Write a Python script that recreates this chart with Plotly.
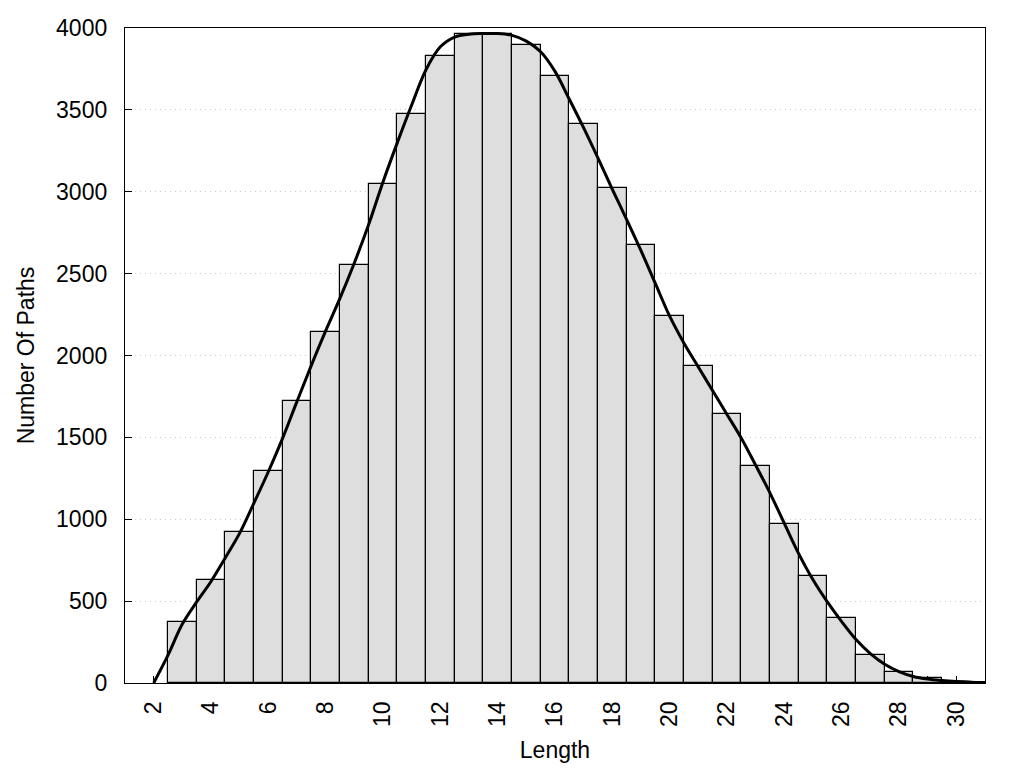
import plotly.graph_objects as go

# Histogram data
lengths = list(range(3, 31))
counts = [370, 627, 925, 1292, 1720, 2146, 2550, 3050, 3472, 3828, 3961, 3961,
          3898, 3708, 3411, 3020, 2672, 2244, 1933, 1645, 1327, 974, 656, 394,
          174, 70, 28, 6]

# Smoothed density curve
curve_x = [2, 2.5, 3, 3.5, 4, 4.5, 5, 5.5, 6, 6.5, 7, 7.5, 8, 8.5, 9, 9.5,
           10, 10.5, 11, 11.5, 12, 12.5, 13, 13.5, 14, 14.5, 15, 15.5, 16,
           16.5, 17, 17.5, 18, 18.5, 19, 19.5, 20, 20.5, 21, 21.5, 22, 22.5,
           23, 23.5, 24, 24.5, 25, 25.5, 26, 26.5, 27, 27.5, 28, 28.5, 29,
           29.5, 30, 30.5, 31]
curve_y = [0, 170, 360, 495, 620, 765, 915, 1100, 1290, 1495, 1720, 1940,
           2150, 2350, 2565, 2800, 3060, 3300, 3530, 3745, 3885, 3945, 3962,
           3966, 3966, 3955, 3920, 3855, 3735, 3565, 3390, 3205, 3015, 2830,
           2640, 2440, 2240, 2075, 1930, 1785, 1640, 1495, 1330, 1160, 975,
           790, 630, 495, 375, 265, 180, 115, 70, 40, 24, 15, 9, 5, 3]

x_tickvals = list(range(1, 32))
x_ticktext = [str(v) if v % 2 == 0 else "" for v in x_tickvals]
y_tickvals = list(range(0, 4001, 500))

fig = go.Figure()
fig.add_trace(go.Bar(
    x=lengths, y=counts, width=1.0,
    marker=dict(color="#dedede", line=dict(color="black", width=1.2)),
    showlegend=False,
))
fig.add_trace(go.Scatter(
    x=curve_x, y=curve_y, mode="lines",
    line=dict(color="black", width=3, shape="spline", smoothing=1.0),
    showlegend=False, cliponaxis=True,
))

font = dict(family="Liberation Sans, Arial, sans-serif", size=23, color="black")
fig.update_layout(
    width=1024, height=768,
    margin=dict(l=117, r=47, t=20, b=93),
    plot_bgcolor="white", paper_bgcolor="white",
    font=font,
    bargap=0,
    xaxis=dict(
        range=[1, 31], tickvals=x_tickvals, ticktext=x_ticktext,
        tickangle=-90, ticks="inside", ticklen=7, tickcolor="black",
        showline=True, mirror=True, linecolor="black", linewidth=1.3,
        showgrid=False, zeroline=False, layer="below traces",
        title=dict(text="Length", font=font, standoff=15),
        ticklabelstandoff=8, automargin=False,
    ),
    yaxis=dict(
        range=[0, 4000], tickvals=y_tickvals,
        ticks="inside", ticklen=7, tickcolor="black",
        showline=True, mirror=True, linecolor="black", linewidth=1.3,
        showgrid=True, gridcolor="#c8c8c8", griddash="1px,4px", gridwidth=1,
        zeroline=False,
        title=dict(text="Number Of Paths", font=font, standoff=15),
        ticklabelstandoff=12, automargin=False,
    ),
)

fig.write_html("out.html")
